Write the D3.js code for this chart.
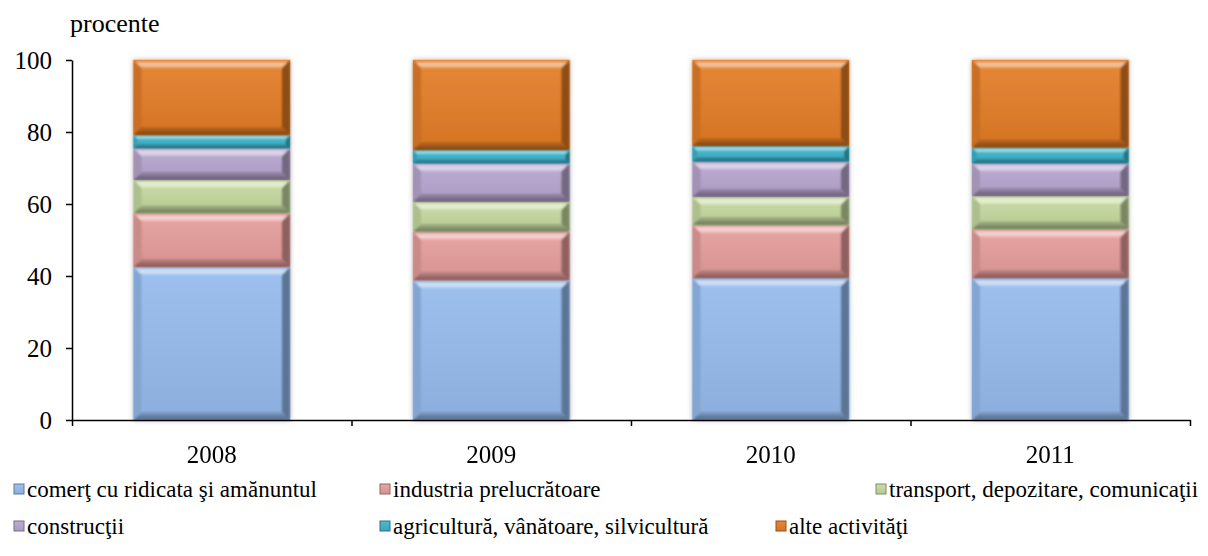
<!DOCTYPE html>
<html>
<head>
<meta charset="utf-8">
<script src="https://cdn.jsdelivr.net/npm/d3@7"></script>
</head>
<body style="margin:0;background:#fff">
<div id="chart"></div>
<script>
// Values (percent of total)
const years = ["2008", "2009", "2010", "2011"];
const sectors = [
    "comerţ cu ridicata şi amănuntul",
    "industria prelucrătoare",
    "transport, depozitare, comunicaţii",
    "construcţii",
    "agricultură, vânătoare, silvicultură",
    "alte activităţi"
];
const comert = [42.5, 38.8, 39.4, 39.4];
const industria = [14.9, 13.5, 14.8, 13.6];
const transport = [9.3, 8.3, 7.8, 9.2];
const constructii = [8.8, 10.7, 9.8, 9.1];
const agricultura = [3.7, 3.7, 4.3, 4.4];
const alte = [20.8, 25.0, 23.9, 24.3];
const yTicks = [0, 20, 40, 60, 80, 100];
const colors = ["#95BBEE", "#E59D9B", "#C5D99F", "#B8A6CF", "#3DB4CC", "#E47D27"];

const series = [comert, industria, transport, constructii, agricultura, alte];
const FONT = "Liberation Serif, DejaVu Serif, Noto Serif, serif";

const width = 1208, height = 556;
const margin = { top: 60, right: 18, bottom: 136, left: 72 };
const w = width - margin.left - margin.right;
const h = height - margin.top - margin.bottom;

// table for d3.stack
const table = years.map((yr, i) => {
    const row = { year: yr };
    sectors.forEach((s, k) => { row[s] = series[k][i]; });
    return row;
});
const stacked = d3.stack().keys(sectors)(table);

const x = d3.scaleBand().domain(years).range([0, w]).paddingInner(0.44).paddingOuter(0.22);
const xEdges = d3.scaleLinear().domain([0, years.length]).range([0, w]);
const y = d3.scaleLinear().domain([0, 100]).range([h, 0]);

const svg = d3.select("#chart").append("svg")
    .attr("width", width)
    .attr("height", height)
    .style("font-family", FONT);

const defs = svg.append("defs");
defs.append("filter").attr("id", "shadow")
    .attr("x", "-10%").attr("y", "-10%").attr("width", "120%").attr("height", "120%")
    .append("feDropShadow")
    .attr("dx", 0).attr("dy", 0).attr("stdDeviation", 2.5)
    .attr("flood-color", "#000").attr("flood-opacity", 0.25);
defs.append("filter").attr("id", "soft")
    .append("feGaussianBlur").attr("stdDeviation", 0.9);

// face gradients per series
colors.forEach((c, k) => {
    const g = defs.append("linearGradient").attr("id", "face" + k)
        .attr("x1", 0).attr("y1", 0).attr("x2", 0).attr("y2", 1);
    g.append("stop").attr("offset", "0%").attr("stop-color", d3.interpolateRgb(c, "#fff")(0.08));
    g.append("stop").attr("offset", "100%").attr("stop-color", d3.interpolateRgb(c, "#000")(0.07));
    const t = defs.append("linearGradient").attr("id", "top" + k)
        .attr("x1", 0).attr("y1", 0).attr("x2", 0).attr("y2", 1);
    t.append("stop").attr("offset", "0%").attr("stop-color", c);
    t.append("stop").attr("offset", "55%").attr("stop-color", d3.interpolateRgb(c, "#fff")(0.6));
    t.append("stop").attr("offset", "100%").attr("stop-color", d3.interpolateRgb(c, "#fff")(0.25));
    const b = defs.append("linearGradient").attr("id", "bot" + k)
        .attr("x1", 0).attr("y1", 0).attr("x2", 0).attr("y2", 1);
    b.append("stop").attr("offset", "0%").attr("stop-color", d3.interpolateRgb(c, "#000")(0.15));
    b.append("stop").attr("offset", "100%").attr("stop-color", d3.interpolateRgb(c, "#000")(0.45));
});

const plot = svg.append("g")
    .attr("transform", "translate(" + margin.left + "," + margin.top + ")");

// bars
const bars = plot.append("g").attr("filter", "url(#shadow)");
stacked.forEach((layer, k) => {
    const c = colors[k];
    const seg = bars.append("g").selectAll("g")
        .data(layer)
        .join("g");
    seg.each(function (d) {
        const x0 = x(d.data.year), x1 = x0 + x.bandwidth();
        const y0 = y(d[1]), y1 = y(d[0]);
        const b = Math.min(8, (y1 - y0) * 0.3);
        const g = d3.select(this);
        g.append("rect")
            .attr("x", x0).attr("y", y0)
            .attr("width", x1 - x0).attr("height", y1 - y0)
            .attr("fill", "url(#face" + k + ")");
        const bevel = g.append("g").attr("filter", "url(#soft)");
        const poly = pts => pts.map(p => p.join(",")).join(" ");
        bevel.append("polygon")
            .attr("points", poly([[x0, y0], [x1, y0], [x1 - b, y0 + b], [x0 + b, y0 + b]]))
            .attr("fill", "url(#top" + k + ")");
        bevel.append("polygon")
            .attr("points", poly([[x0, y1], [x1, y1], [x1 - b, y1 - b], [x0 + b, y1 - b]]))
            .attr("fill", "url(#bot" + k + ")");
        bevel.append("polygon")
            .attr("points", poly([[x0, y0], [x0 + b, y0 + b], [x0 + b, y1 - b], [x0, y1]]))
            .attr("fill", d3.interpolateRgb(c, "#000")(0.12));
        bevel.append("polygon")
            .attr("points", poly([[x1, y0], [x1 - b, y0 + b], [x1 - b, y1 - b], [x1, y1]]))
            .attr("fill", d3.interpolateRgb(c, "#000")(0.38));
    });
});

// y axis
const yAxis = plot.append("g")
    .call(d3.axisLeft(y).tickValues(yTicks).tickSize(6).tickSizeOuter(0).tickPadding(14));
yAxis.attr("font-family", null).attr("font-size", null);
yAxis.selectAll("text").style("font-family", FONT).style("font-size", "25px").attr("fill", "#000");
yAxis.selectAll("line, path").attr("stroke", "#000").attr("stroke-width", 1.5);

// x axis: tick marks on category edges, labels centered
const xTicks = plot.append("g")
    .attr("transform", "translate(0," + h + ")")
    .call(d3.axisBottom(xEdges).ticks(years.length).tickFormat("").tickSize(6).tickSizeOuter(0));
xTicks.selectAll("line, path").attr("stroke", "#000").attr("stroke-width", 1.5);
const xLabels = plot.append("g")
    .attr("transform", "translate(0," + h + ")")
    .call(d3.axisBottom(x).tickSize(0).tickPadding(25));
xLabels.attr("font-family", null).attr("font-size", null);
xLabels.select(".domain").remove();
xLabels.selectAll("text").style("font-family", FONT).style("font-size", "25px").attr("fill", "#000");

// unit label
svg.append("text")
    .attr("x", 70).attr("y", 32)
    .style("font-family", FONT)
    .style("font-size", "26px")
    .text("procente");

// legend
const legendPos = [[14, 497], [380, 497], [876, 497], [14, 534], [380, 534], [776, 534]];
const legend = svg.append("g");
sectors.forEach((s, k) => {
    const p = legendPos[k];
    const item = legend.append("g").attr("transform", "translate(" + p[0] + "," + p[1] + ")");
    item.append("rect")
        .attr("x", 0).attr("y", -13).attr("width", 10).attr("height", 10)
        .attr("fill", "url(#face" + k + ")")
        .attr("stroke", d3.interpolateRgb(colors[k], "#000")(0.35)).attr("stroke-width", 1);
    item.append("text")
        .attr("x", 13).attr("y", 0)
        .style("font-family", FONT)
        .style("font-size", "23px")
        .text(s);
});
</script>
</body>
</html>
